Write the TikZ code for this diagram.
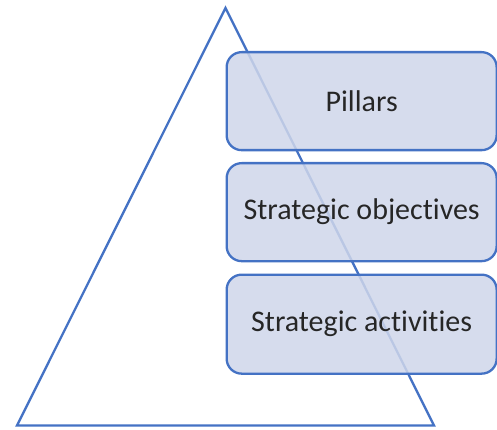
\documentclass[tikz,border=0pt]{standalone}
\usepackage{fontspec}
\setmainfont{Carlito}[Ligatures=NoCommon]
\definecolor{edgeblue}{RGB}{68,114,196}
\definecolor{boxfill}{RGB}{207,214,234}
\tikzset{
  x=1pt, y=-1pt,
  outline/.style={draw=edgeblue, line width=2.3pt, line join=miter},
  level/.style={draw=edgeblue, line width=2.3pt, fill=boxfill, fill opacity=0.85,
    text opacity=1, rounded corners=15pt, minimum width=270pt, minimum height=98pt,
    anchor=north west, inner sep=0pt, font=\fontsize{30}{36}\selectfont, text=black!85}
}
\begin{document}
\begin{tikzpicture}
\useasboundingbox (0,0) rectangle (497,430);
% pyramid outline
\coordinate (apex) at (225.5,8);
\coordinate (bl) at (17,425.5);
\coordinate (br) at (434,425.5);
\draw[outline] (apex) -- (bl) -- (br) -- cycle;
% levels
\node[level] (pillars) at (225.5,51) {Pillars};
\node[level] (objectives) at (225.5,162) {Strategic objectives};
\node[level, minimum height=99pt] (activities) at (225.5,273.5) {Strategic activities};
\end{tikzpicture}
\end{document}
